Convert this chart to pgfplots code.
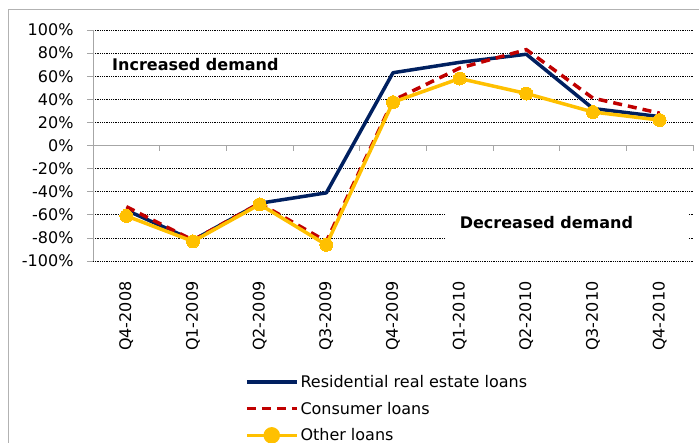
\documentclass[border=0pt]{standalone}
\usepackage{fontspec}
\setmainfont{DejaVu Sans}
\usepackage{pgfplots}
\pgfplotsset{compat=1.18}
\definecolor{navyc}{RGB}{0,32,96}
\definecolor{redc}{RGB}{192,0,0}
\definecolor{goldc}{RGB}{255,192,0}
\newcommand{\cf}{\fontsize{16}{19}\selectfont}
\pgfplotsset{
  lineleg/.style={legend image code/.code={\draw[##1] (0pt,0pt) -- (50pt,0pt);}},
  goldleg/.style={legend image code/.code={\draw[goldc, line width=3.5pt] (0pt,0pt) -- (50pt,0pt); \fill[goldc] (25pt,0pt) circle (6.5pt);}},
}
\begin{document}
\begin{tikzpicture}
\useasboundingbox (0pt,0pt) rectangle (699pt,442pt);
\clip (0pt,0pt) rectangle (699pt,442pt);
\draw[gray!60, line width=1pt] (8pt,-10pt) -- (8pt,432pt) -- (710pt,432pt);
\begin{axis}[
  at={(93pt,181pt)}, anchor=south west,
  scale only axis, width=600pt, height=231pt,
  xmin=0.5, xmax=9.5, ymin=-100, ymax=100,
  axis x line*=bottom, axis y line*=left,
  x axis line style={draw=none},
  y axis line style={gray!70, line width=0.8pt},
  xtick={1,...,9},
  xticklabels={Q4-2008,Q1-2009,Q2-2009,Q3-2009,Q4-2009,Q1-2010,Q2-2010,Q3-2010,Q4-2010},
  x tick style={draw=none},
  xticklabel style={rotate=90, anchor=east},
  xticklabel shift=11pt,
  ytick={-100,-80,...,100},
  yticklabel={\pgfmathprintnumber{\tick}\%},
  yticklabel style={xshift=-10pt},
  /pgf/number format/assume math mode=true,
  y tick style={gray!70, line width=0.8pt},
  tick align=outside, major tick length=6pt,
  ymajorgrids, major grid style={black, line width=0.7pt, dash pattern=on 0.9pt off 0.9pt},
  tick label style={font=\cf},
  legend style={at={(axis description cs:0.253,-0.485)}, anchor=north west, draw=none, fill=none, font=\cf, row sep=9pt, inner sep=0pt},
  legend cell align=left,
  clip=false,
]
\draw[gray!70, line width=0.8pt] (axis cs:0.5,0) -- (axis cs:9.5,0);
\pgfplotsinvokeforeach{1.5,2.5,3.5,4.5,5.5,6.5,7.5,8.5,9.5}{\draw[gray!70, line width=0.8pt] (axis cs:#1,0) -- ++(0pt,-6pt);}
\fill[white] (axis cs:5.795,-51.5) rectangle (axis cs:9.425,-86);
\node[anchor=west, font=\cf\bfseries, inner sep=0pt] at (axis cs:0.785,69.7) {Increased demand};
\node[anchor=west, font=\cf\bfseries, inner sep=0pt] at (axis cs:6.0,-67) {Decreased demand};
\addplot[navyc, line width=3.5pt, line join=round, lineleg]
  coordinates {(1,-56) (2,-82) (3,-50) (4,-41) (5,63) (6,72) (7,79) (8,32) (9,25)};
\addlegendentry{Residential real estate loans}
\addplot[redc, line width=3.5pt, dash pattern=on 9pt off 6pt, lineleg]
  coordinates {(1,-53) (2,-82) (3,-50) (4,-83) (5,39) (6,67) (7,83) (8,41) (9,28)};
\addlegendentry{Consumer loans}
\addplot[goldc, line width=3.5pt, line join=round, mark=*, mark size=6.5pt, mark options={solid, fill=goldc, draw=goldc, line width=0pt}, goldleg]
  coordinates {(1,-61) (2,-83) (3,-51) (4,-86) (5,37.5) (6,58) (7,45) (8,29) (9,22)};
\addlegendentry{Other loans}
\end{axis}
\end{tikzpicture}
\end{document}
